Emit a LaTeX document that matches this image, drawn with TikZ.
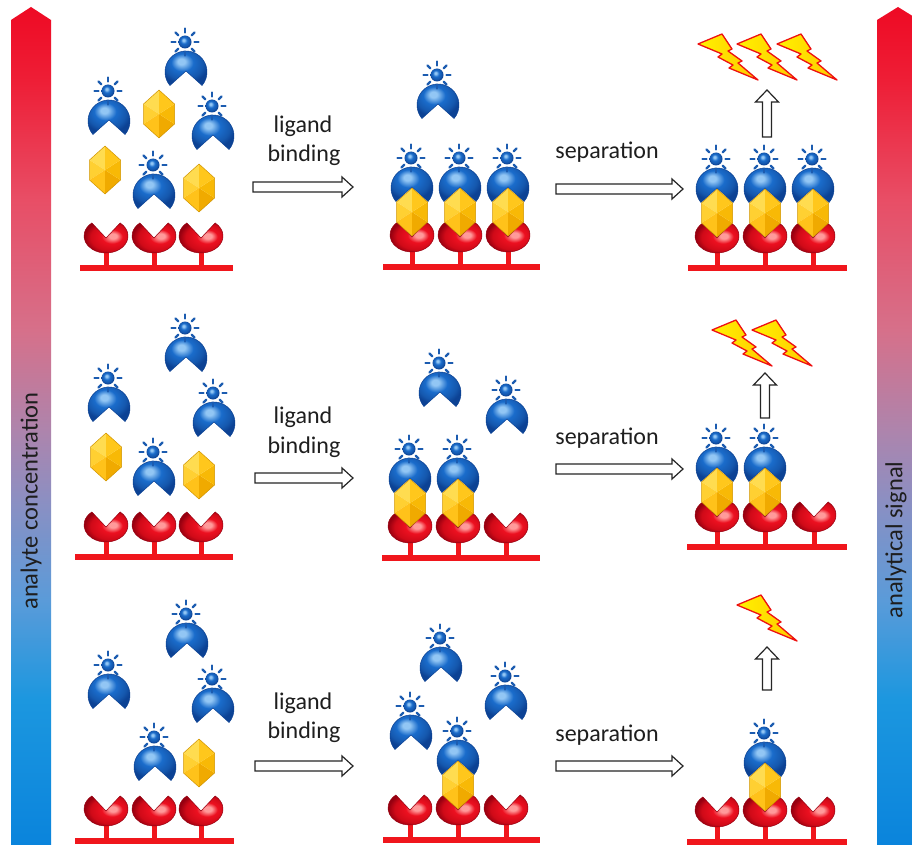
\documentclass[tikz,border=0pt]{standalone}
\usepackage{fontspec}
\setmainfont{Carlito}
\usetikzlibrary{calc}

% palette
\definecolor{bmid}{HTML}{1A6CCB}
\definecolor{bhi}{HTML}{92C6F4}
\definecolor{bdeep}{HTML}{1558AE}
\definecolor{bdark}{HTML}{0C4294}
\definecolor{bray}{HTML}{1C5CB0}
\definecolor{rmid}{HTML}{EC1020}
\definecolor{rhi}{HTML}{FF9A9A}
\definecolor{rdeep}{HTML}{D00A18}
\definecolor{rdark}{HTML}{960010}
\definecolor{rbase}{HTML}{F0161C}
\definecolor{hxa}{HTML}{FFDC50}
\definecolor{hxb}{HTML}{FFD032}
\definecolor{hxc}{HTML}{FFC21A}
\definecolor{hxd}{HTML}{F0AA00}
\definecolor{hxe}{HTML}{F8B906}
\definecolor{hxf}{HTML}{FFC71C}
\definecolor{hxedge}{HTML}{D09400}
\definecolor{boltA}{HTML}{FFF200}
\definecolor{boltB}{HTML}{FFC800}
\definecolor{boltR}{HTML}{EE1111}
\definecolor{gc0}{HTML}{0A84DC}
\definecolor{gc1}{HTML}{1C97DF}
\definecolor{gc2}{HTML}{5A9BD9}
\definecolor{gc3}{HTML}{8C8FC2}
\definecolor{gc4}{HTML}{AE84AC}
\definecolor{gc5}{HTML}{D6708A}
\definecolor{gc6}{HTML}{E84E66}
\definecolor{gc7}{HTML}{EE1E36}
\definecolor{gc8}{HTML}{EE0A24}
\definecolor{txt}{HTML}{1E1E1E}

% glossy fills
\pgfdeclareradialshading{blueglos}{\pgfpoint{-6bp}{8bp}}{%
  color(0bp)=(bhi); color(4bp)=(bhi); color(12bp)=(bmid);
  color(21bp)=(bdeep); color(26bp)=(bdark); color(50bp)=(bdark)}
\pgfdeclareradialshading{redglos}{\pgfpoint{7bp}{5bp}}{%
  color(0bp)=(rhi); color(4bp)=(rhi); color(11bp)=(rmid);
  color(21bp)=(rdeep); color(27bp)=(rdark); color(50bp)=(rdark)}
% red-to-blue scale bars
\pgfdeclareverticalshading{scalebar}{100bp}{%
  color(0bp)=(gc0); color(25bp)=(gc0); color(33.7bp)=(gc1);
  color(39.6bp)=(gc2); color(45.6bp)=(gc3); color(49.8bp)=(gc4);
  color(55.7bp)=(gc5); color(63.5bp)=(gc6); color(70.6bp)=(gc7);
  color(75bp)=(gc8); color(100bp)=(gc8)}

\tikzset{
  lab/.style={font=\fontsize{24}{26}\selectfont, text=txt, inner sep=0pt},
  barlab/.style={font=\fontsize{24.5}{26}\selectfont, text=txt, inner sep=0pt, rotate=90},
  blockarrow/.style={draw=black!85, fill=white, line width=1.2pt, line join=miter},
  rays/.style={draw=bray, line width=2.3pt, line cap=round},
  bodyfill/.style={shading=blueglos, draw=bdark, line width=0.5pt},
  cupfill/.style={shading=redglos, draw=rdark, line width=0.5pt},
  boltfill/.style={left color=boltA, right color=boltB, draw=boltR, line width=1.3pt, line join=round},
  % glowing label on top of an antibody
  pics/beacon/.style={code={
    \foreach \a in {0,45,...,315}
      \draw[rays] (\a:9.5) -- (\a:13.5);
    \shade[shading=blueglos] (0,0) circle[radius=6.5];
  }},
  % labelled antibody: dome with a notch underneath
  pics/antibody/.style={code={
    \shadedraw[bodyfill] (0,1) -- (-40:21) arc[start angle=-40, end angle=220, radius=21] -- cycle;
    \pic at (-1,30) {beacon};
  }},
  % analyte: faceted hexagon
  pics/analyte/.style={code={
    \fill[hxa] (0,0) -- (0,24) -- (-15.5,10) -- cycle;
    \fill[hxb] (0,0) -- (-15.5,10) -- (-15.5,-10) -- cycle;
    \fill[hxc] (0,0) -- (-15.5,-10) -- (0,-24) -- cycle;
    \fill[hxd] (0,0) -- (0,-24) -- (15.5,-10) -- cycle;
    \fill[hxe] (0,0) -- (15.5,-10) -- (15.5,10) -- cycle;
    \fill[hxf] (0,0) -- (15.5,10) -- (0,24) -- cycle;
    \draw[hxedge, line width=0.5pt, line join=round] (0,24) -- (-15.5,10) -- (-15.5,-10) -- (0,-24) -- (15.5,-10) -- (15.5,10) -- cycle;
  }},
  % capture receptor standing on the surface line (origin on the line)
  pics/receptor/.style={code={
    \fill[rbase] (-2.5,0) rectangle (2.5,18);
    \begin{scope}[shift={(0,32)}]
      \shadedraw[cupfill] (0,-2) -- (50:22 and 17)
        arc[start angle=50, end angle=-230, x radius=22, y radius=17] -- cycle;
    \end{scope}
  }},
  % receptor + analyte + antibody sandwich
  pics/sandwich/.style={code={
    \pic {receptor};
    \pic at (0,79) {antibody};
    \pic at (0,55) {analyte};
  }},
  pics/rarrow/.style={code={
    \draw[blockarrow] (0,5) -- (#1-11,5) -- (#1-11,10) -- (#1,0) -- (#1-11,-10) -- (#1-11,-5) -- (0,-5) -- cycle;
  }},
  pics/uarrow/.style={code={
    \draw[blockarrow] (-4.5,0) -- (-4.5,#1-12) -- (-11.5,#1-12) -- (0,#1) -- (11.5,#1-12) -- (4.5,#1-12) -- (4.5,0) -- cycle;
  }},
  pics/bolt/.style={code={
    \filldraw[boltfill] (0,-12) -- (24,-2) -- (34,-17) -- (30,-19) -- (44,-29) -- (40,-31) -- (60,-48)
      -- (31,-36) -- (35,-33) -- (20,-25) -- (24,-22) -- cycle;
  }},
}

\begin{document}
\begin{tikzpicture}[x=1pt, y=1pt]
\clip (0,0) rectangle (912,-845);
\fill[white] (0,0) rectangle (912,-845);

% ---- scale bars ----
\shade[shading=scalebar] (11,-845) -- (11,-20) -- (31,-7) -- (51,-20) -- (51,-845) -- cycle;
\shade[shading=scalebar] (877,-845) -- (877,-20) -- (898,-7) -- (919,-20) -- (919,-845) -- cycle;
\node[barlab] (conc) at (31,-501) {analyte concentration};
\node[barlab] (signal) at (896,-540) {analytical signal};

% ---- surface lines ----
\fill[rbase] (80,-265) rectangle (233,-271);
\fill[rbase] (383,-264) rectangle (540,-270);
\fill[rbase] (688,-265) rectangle (847,-271);
\fill[rbase] (75,-554) rectangle (233,-560);
\fill[rbase] (382,-555) rectangle (540,-561);
\fill[rbase] (687,-544) rectangle (847,-550);
\fill[rbase] (75,-838) rectangle (234,-844);
\fill[rbase] (383,-837) rectangle (540,-843);
\fill[rbase] (687,-839) rectangle (847,-845);

% ---- row 1 ----
\foreach \x in {106,154,201} \pic at (\x,-268) {receptor};
\foreach \x/\y in {159/114, 105/170, 199/188} \pic at (\x,-\y) {analyte};
\foreach \x/\y in {109/121, 186/72, 213/136, 154/195} \pic at (\x,-\y) {antibody};
\foreach \x in {412,460,508} \pic at (\x,-267) {sandwich};
\pic at (438,-105) {antibody};
\foreach \x in {717,765,813} \pic at (\x,-268) {sandwich};
\pic at (767,-137) {uarrow=47};
\foreach \x in {698,737,777} \pic at (\x,-32) {bolt};
\node[lab, anchor=base] (lig1) at (303,-133) {ligand};
\node[lab, anchor=base] (bind1) at (304,-162) {binding};
\pic at (253,-187) {rarrow=100};
\node[lab, anchor=base] (sep1) at (607,-159) {separation};
\pic at (556,-189) {rarrow=127};

% ---- row 2 ----
\foreach \x in {106,154,201} \pic at (\x,-557) {receptor};
\foreach \x/\y in {106/457, 199/475} \pic at (\x,-\y) {analyte};
\foreach \x/\y in {109/408, 186/358, 214/423, 154/482} \pic at (\x,-\y) {antibody};
\foreach \x in {410,458} \pic at (\x,-558) {sandwich};
\pic at (506,-558) {receptor};
\foreach \x/\y in {440/393, 507/420} \pic at (\x,-\y) {antibody};
\foreach \x in {717,765} \pic at (\x,-547) {sandwich};
\pic at (814,-547) {receptor};
\pic at (765,-418) {uarrow=45};
\foreach \x in {712,752} \pic at (\x,-318) {bolt};
\node[lab, anchor=base] (lig2) at (303,-423) {ligand};
\node[lab, anchor=base] (bind2) at (304,-453) {binding};
\pic at (255,-478) {rarrow=98};
\node[lab, anchor=base] (sep2) at (607,-444) {separation};
\pic at (556,-469) {rarrow=127};

% ---- row 3 ----
\foreach \x in {106,154,201} \pic at (\x,-841) {receptor};
\pic at (199,-763) {analyte};
\foreach \x/\y in {109/695, 187/644, 213/709, 155/767} \pic at (\x,-\y) {antibody};
\foreach \x in {410,506} \pic at (\x,-840) {receptor};
\pic at (458,-840) {sandwich};
\foreach \x/\y in {441/668, 506/706, 411/736} \pic at (\x,-\y) {antibody};
\foreach \x in {717,813} \pic at (\x,-842) {receptor};
\pic at (765,-842) {sandwich};
\pic at (767,-690) {uarrow=43};
\pic at (737,-593) {bolt};
\node[lab, anchor=base] (lig3) at (303,-709) {ligand};
\node[lab, anchor=base] (bind3) at (304,-738) {binding};
\pic at (255,-766) {rarrow=98};
\node[lab, anchor=base] (sep3) at (607,-741) {separation};
\pic at (556,-766) {rarrow=127};
\end{tikzpicture}
\end{document}
